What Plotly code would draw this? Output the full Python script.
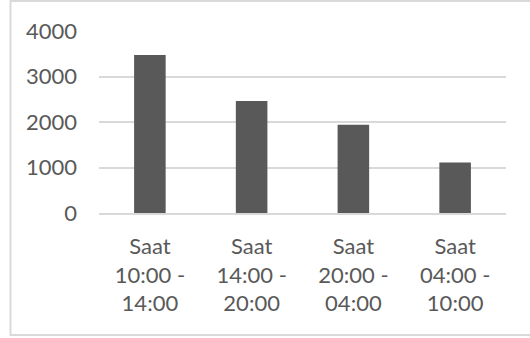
import plotly.graph_objects as go

# Time-of-day buckets and their counts
categories = ["Saat<br>10:00 -<br>14:00", "Saat<br>14:00 -<br>20:00",
              "Saat<br>20:00 -<br>04:00", "Saat<br>04:00 -<br>10:00"]
values = [3470, 2460, 1940, 1110]
y_ticks = [0, 1000, 2000, 3000, 4000]

text_color = "#595959"
grid_color = "#d9d9d9"
font_family = "Lato, 'Open Sans', sans-serif"

fig = go.Figure(
    go.Bar(
        x=categories,
        y=values,
        marker=dict(color="#595959", line=dict(width=0)),
        width=0.31,
    )
)

fig.update_layout(
    width=530,
    height=338,
    margin=dict(l=99, r=24, t=31, b=125),
    paper_bgcolor="white",
    plot_bgcolor="white",
    showlegend=False,
    font=dict(family=font_family, size=22, color=text_color),
    bargap=0.69,
)

fig.update_yaxes(
    range=[0, 4000],
    tickvals=y_ticks,
    showgrid=True,
    gridcolor=grid_color,
    gridwidth=1.5,
    zeroline=False,
    showline=False,
    ticks="",
    ticklabelstandoff=21,
)

fig.update_xaxes(
    showline=True,
    linecolor=grid_color,
    linewidth=1.5,
    showgrid=False,
    ticks="",
    ticklabelstandoff=13,
)

# Chart-area frame
fig.add_shape(
    type="rect", xref="paper", yref="paper",
    x0=-88.5 / 407, x1=1 + 40 / 407,
    y0=-122 / 182, y1=1 + 30 / 182,
    line=dict(color=grid_color, width=2),
    fillcolor="rgba(0,0,0,0)",
    layer="below",
)

fig.write_html("out.html")
